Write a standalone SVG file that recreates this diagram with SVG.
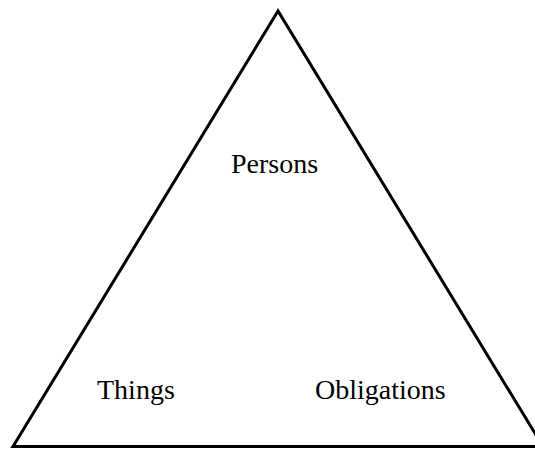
<svg xmlns="http://www.w3.org/2000/svg" width="535" height="449" viewBox="0 0 535 449">
<style>
.edge{fill:none;stroke:#000;stroke-width:3;stroke-linejoin:miter}
.lbl{font-family:"Liberation Serif","Times New Roman",serif;font-size:28px;fill:#000}
</style>
<rect width="535" height="449" fill="#fff"/>
<g id="connectors">
<polygon class="edge" points="278,11 13,446.5 543,446.5"/>
</g>
<g id="persons"><text class="lbl" x="231" y="173">Persons</text></g>
<g id="things"><text class="lbl" x="97" y="398.5">Things</text></g>
<g id="obligations"><text class="lbl" x="315" y="398.5">Obligations</text></g>
</svg>
